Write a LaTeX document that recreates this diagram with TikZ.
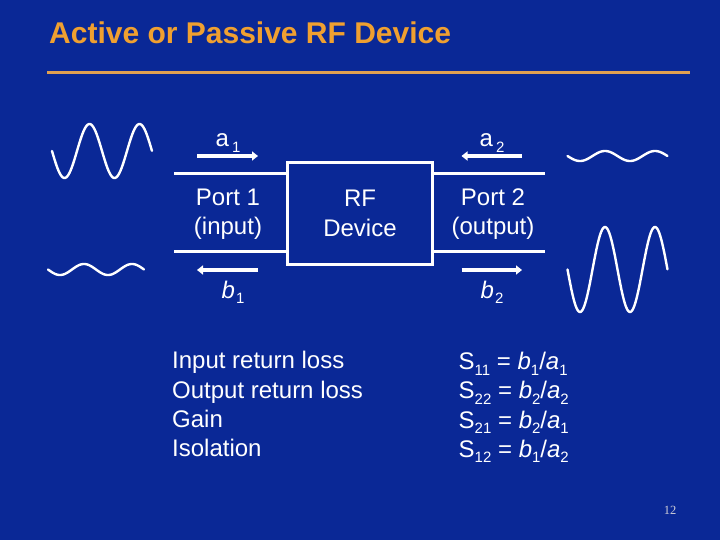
\documentclass[tikz,border=0pt]{standalone}
\usepackage{fontspec}
\setmainfont{Liberation Sans}
\newfontfamily\pagefont{Liberation Serif}
\usetikzlibrary{arrows.meta}
\definecolor{slideblue}{RGB}{10,40,150}
\definecolor{titleorange}{RGB}{240,160,48}
\definecolor{ruletan}{RGB}{225,160,80}
\newcommand{\lowsub}[1]{\raisebox{-5.5pt}{\fontsize{15}{15}\selectfont #1}}
\tikzset{
    every node/.style={text=white, inner sep=0pt, font=\fontsize{24}{29.3}\selectfont},
    portline/.style={draw=white, line width=3.3pt},
    flow/.style={draw=white, line width=3.3pt, -{Triangle[length=6pt, width=9pt]}},
    wave/.style={draw=white, line width=2.4pt, line cap=round, smooth},
    device/.style={draw=white, line width=3pt, minimum width=144.6pt,
        minimum height=102pt, align=center}
}

\begin{document}
\begin{tikzpicture}[x=1pt, y=-1pt]
	\useasboundingbox[fill=slideblue] (0,0) rectangle (720,540);

	\node (title) [anchor=base west, text=titleorange,
		font=\fontsize{30}{36}\selectfont\bfseries] at (49,43.3) {Active or Passive RF Device};
	\coordinate (r1) at (47,72.3);
	\coordinate (r2) at (690,72.3);
	\draw[draw=ruletan, line width=3pt] (r1) -- (r2);

	\node (dev) [device] at (360,213.3) {RF\\Device};
	\node (p1) [align=center] at (228,214) {Port 1\\(input)};
	\node (p2) [align=center] at (493,214) {Port 2\\(output)};

	% port lines
	\coordinate (l1) at (174,173.3);
	\coordinate (l2) at (174,251.7);
	\coordinate (l3) at (545,173.3);
	\coordinate (l4) at (545,251.7);
	\draw[portline] (l1) -- (l1 -| dev.west); \draw[portline] (l2) -- (l2 -| dev.west);
	\draw[portline] (l3) -- (l3 -| dev.east); \draw[portline] (l4) -- (l4 -| dev.east);

	% incident and reflected waves
	\coordinate (a1s) at (197,156); \coordinate (a1e) at (258,156);
	\coordinate (a2s) at (522,156); \coordinate (a2e) at (461.5,156);
	\coordinate (b1s) at (258,270); \coordinate (b1e) at (197,270);
	\coordinate (b2s) at (461.5,270); \coordinate (b2e) at (522,270);
	\draw[flow] (a1s) -- (a1e); \draw[flow] (a2s) -- (a2e);
	\draw[flow] (b1s) -- (b1e); \draw[flow] (b2s) -- (b2e);

	\node (a1) [anchor=base] at (228,147) {a\hspace{3pt}\lowsub{1}};
	\node (a2) [anchor=base] at (492,147) {a\hspace{3pt}\lowsub{2}};
	\node (b1) [anchor=base] at (233,298) {\textit{b}\hspace{1pt}\lowsub{1}};
	\node (b2) [anchor=base] at (492,298) {\textit{b}\hspace{1pt}\lowsub{2}};

	\draw[wave] plot[domain=0:2, samples=120] ({52+50*\x}, {151+27*sin(360*\x)});
	\draw[wave] plot[domain=0:2, samples=120] ({48+48*\x}, {269.5+5.5*sin(360*\x)});
	\draw[wave] plot[domain=0:2, samples=120] ({567.5+50*\x}, {156+5*sin(360*\x)});
	\draw[wave] plot[domain=0:2, samples=120] ({567.5+50*\x}, {269.5+42.5*sin(360*\x)});

	\node (meas) [anchor=north west, align=left] at (172,351.2)
		{Input return loss\\Output return loss\\Gain\\Isolation};
	\node (spar) [anchor=north west, align=left] at (458.5,352)
		{S\lowsub{11} = \textit{b}\lowsub{1}/\textit{a}\lowsub{1}\\
		 S\lowsub{22} = \textit{b}\lowsub{2}/\textit{a}\lowsub{2}\\
		 S\lowsub{21} = \textit{b}\lowsub{2}/\textit{a}\lowsub{1}\\
		 S\lowsub{12} = \textit{b}\lowsub{1}/\textit{a}\lowsub{2}};

	\node (page) [text={rgb,255:red,205;green,205;blue,215},
		font=\fontsize{12.5}{15}\pagefont] at (670,510) {12};
\end{tikzpicture}
\end{document}
